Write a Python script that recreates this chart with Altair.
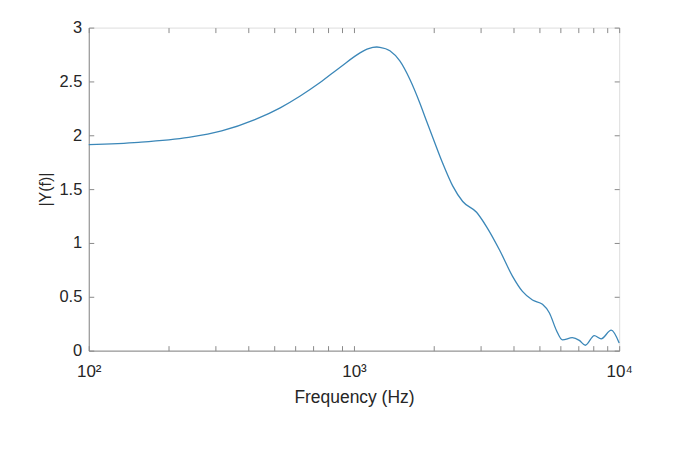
import altair as alt
import pandas as pd

freq = [100, 154, 238, 317, 423, 527, 627, 745, 885, 1054, 1120, 1178, 1219, 1252,
        1366, 1489, 1624, 1771, 1879, 1982, 2161, 2356, 2571, 2899, 3163, 3539, 3963,
        4318, 4710, 5138, 5458, 5796, 6109, 6658, 7073, 7453, 8057, 8553, 9333, 10000]
mag = [1.913, 1.934, 1.98, 2.04, 2.145, 2.255, 2.365, 2.49, 2.63, 2.765, 2.80, 2.817,
       2.82, 2.817, 2.785, 2.69, 2.52, 2.30, 2.13, 1.98, 1.74, 1.53, 1.385, 1.285, 1.15,
       0.935, 0.69, 0.55, 0.47, 0.43, 0.35, 0.19, 0.10, 0.12, 0.095, 0.05, 0.14, 0.11,
       0.19, 0.07]

x_ticks = [100, 200, 300, 400, 500, 600, 700, 800, 900, 1000, 2000, 3000, 4000,
           5000, 6000, 7000, 8000, 9000, 10000]
y_ticks = [0, 0.5, 1, 1.5, 2, 2.5, 3]

df = pd.DataFrame({"f": freq, "Y": mag})

W, H = 532, 324
AX = "#8a8a8a"
TXT = "#262626"
FONT = "Liberation Sans"

xs = alt.Scale(type="log", domain=[100, 10000], nice=False)
ys = alt.Scale(domain=[0, 3], nice=False, zero=False)

label_expr = "datum.value == 100 ? '10²' : datum.value == 1000 ? '10³' : datum.value == 10000 ? '10⁴' : ''"

base = alt.Chart(df)

main = base.mark_line(color="#3b87b8", strokeWidth=1.3, interpolate="monotone").encode(
    x=alt.X("f:Q", scale=xs, axis=alt.Axis(
        orient="bottom", values=x_ticks, labelExpr=label_expr, tickSize=0,
        grid=False, domainColor=AX, labelColor=TXT, labelFontSize=17, labelFont=FONT,
        labelPadding=13, title="Frequency (Hz)", titleFont=FONT, titleFontSize=17.5,
        titleFontWeight="normal", titleColor=TXT, titlePadding=9, labelFlush=False)),
    y=alt.Y("Y:Q", scale=ys, axis=alt.Axis(
        orient="left", values=y_ticks, format="~g", tickSize=0, grid=False, domainColor=AX,
        labelColor=TXT, labelFontSize=16.5, labelFont=FONT, labelPadding=7,
        title="|Y(f)|", titleFont=FONT, titleFontSize=16, titleFontWeight="normal",
        titleColor=TXT, titlePadding=5, labelFlush=False)),
)

inner1 = base.mark_line(strokeOpacity=0).encode(
    x=alt.X("f:Q", scale=xs, axis=alt.Axis(
        orient="top", offset=-H, values=x_ticks, labels=False, domain=False,
        grid=False, tickSize=5, tickColor=AX, title="")),
    y=alt.Y("Y:Q", scale=ys, axis=alt.Axis(
        orient="right", offset=-W, values=y_ticks, labels=False, domain=False,
        grid=False, tickSize=5, tickColor=AX, title="")),
)

inner2 = base.mark_line(strokeOpacity=0).encode(
    x=alt.X("f:Q", scale=xs, axis=alt.Axis(
        orient="bottom", offset=-H, values=x_ticks, labels=False, domain=False,
        grid=False, tickSize=5, tickColor=AX, title="")),
    y=alt.Y("Y:Q", scale=ys, axis=alt.Axis(
        orient="left", offset=-W, values=y_ticks, labels=False, domain=False,
        grid=False, tickSize=5, tickColor=AX, title="")),
)

chart = alt.layer(main, inner1, inner2).resolve_axis(
    x="independent", y="independent"
).properties(
    width=W, height=H,
    autosize=alt.AutoSizeParams(type="none"),
    padding={"left": 81, "top": 19, "right": 60, "bottom": 96},
).configure_view(
    stroke=AX, strokeWidth=1
).configure(background="white")

chart.save("out.html", embed_options={"renderer": "svg", "actions": False})
